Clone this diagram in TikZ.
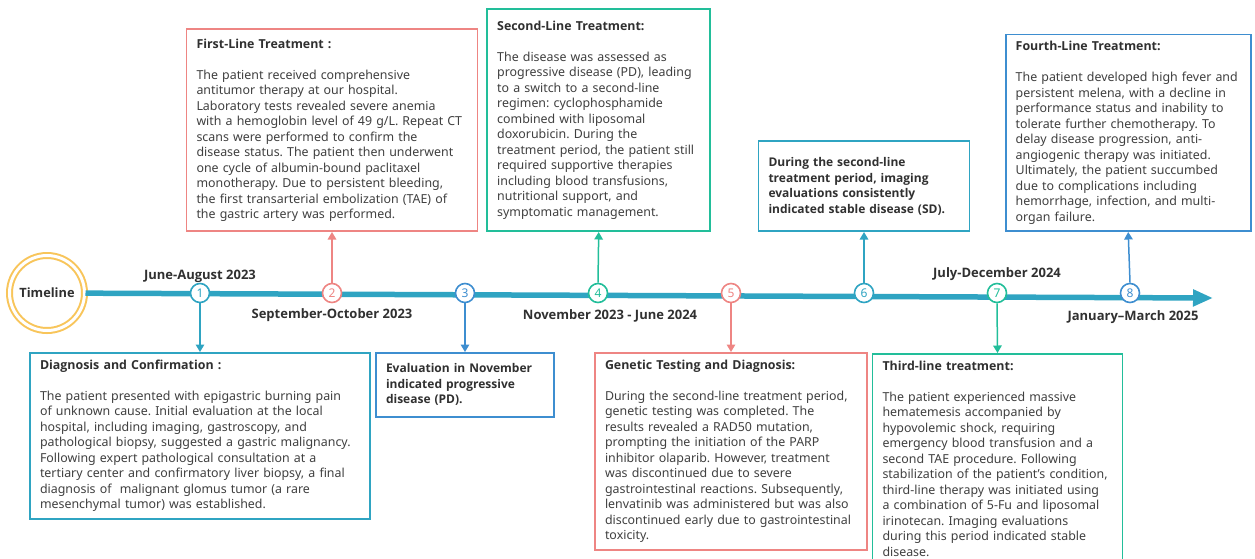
\documentclass[tikz,border=0pt]{standalone}
\usepackage{fontspec}
\setmainfont{Noto Sans}
\newfontfamily\headsans{Open Sans}
\usetikzlibrary{arrows.meta}
\frenchspacing

\definecolor{tlblue}{HTML}{2FA4C2}
\definecolor{salmon}{HTML}{EE8583}
\definecolor{mint}{HTML}{22BE9A}
\definecolor{skyblue}{HTML}{3E8ED0}
\definecolor{ringgold}{HTML}{F8C55A}
\definecolor{txtgray}{HTML}{404040}
\definecolor{txtdark}{HTML}{303030}

\newcommand{\cardtitle}[1]{{\headsans\bfseries\color{txtdark}#1}}

\begin{document}
\begin{tikzpicture}[x=1pt,y=-1pt,
  card/.style={draw=#1, line width=1.6pt, fill=white, rectangle, inner xsep=10pt, inner ysep=7pt,
    align=left, text=txtgray, font=\fontsize{12.4}{15.5}\selectfont},
  boldcard/.style={card=#1, text=txtdark, font=\headsans\bfseries\fontsize{12}{15.5}\selectfont},
  dot/.style={draw=#1, line width=1.6pt, fill=white, circle, minimum size=19pt, inner sep=0pt,
    text=#1, font=\fontsize{12}{12}\selectfont},
  stem/.style={draw=#1, line width=1.5pt, -{Triangle[width=8.5pt,length=7.5pt]}},
  date/.style={font=\headsans\bfseries\fontsize{13}{13}\selectfont, text=txtdark},
]
\useasboundingbox (0,0) rectangle (1255,558);

% axis
\node[circle, draw=ringgold, line width=2pt, double=white, double distance=3pt, fill=white,
  minimum size=75pt, inner sep=0pt, text=txtdark, font=\headsans\bfseries\fontsize{12.8}{13}\selectfont] (tl) at (47,293) {Timeline};
\coordinate (tlend) at (1213,298);
\draw[tlblue, line width=5.5pt, -{Triangle[width=16pt,length=20pt]}] (tl) -- (tlend);

\node[dot=tlblue]  (n1) at (200,293) {1};
\node[dot=salmon]  (n2) at (332,293) {2};
\node[dot=skyblue] (n3) at (465,293) {3};
\node[dot=mint]    (n4) at (598,293) {4};
\node[dot=salmon]  (n5) at (731,293) {5};
\node[dot=tlblue]  (n6) at (864,293) {6};
\node[dot=mint]    (n7) at (997,293) {7};
\node[dot=skyblue] (n8) at (1130,293) {8};

% dates
\node[date] (d1) at (200,276) {June-August 2023};
\node[date] (d2) at (332,315) {September-October 2023};
\node[date] (d4) at (610,316) {November 2023 - June 2024};
\node[date] (d7) at (997,274) {July-December 2024};
\node[date] (d8) at (1133,317) {January–March 2025};

% cards above the axis
\node[card=salmon, text width=271pt, minimum height=202pt, anchor=south] (first) at (332,232)
  {\cardtitle{First-Line Treatment :}\\[15.5pt]
   The patient received comprehensive\\
   antitumor therapy at our hospital.\\
   Laboratory tests revealed severe anemia\\
   with a hemoglobin level of 49 g/L. Repeat CT\\
   scans were performed to confirm the\\
   disease status. The patient then underwent\\
   one cycle of albumin-bound paclitaxel\\
   monotherapy. Due to persistent bleeding,\\
   the first transarterial embolization (TAE) of\\
   the gastric artery was performed.};

\node[card=mint, text width=203pt, minimum height=222pt, anchor=south] (second) at (598.7,232)
  {\cardtitle{Second-Line Treatment:}\\[15.5pt]
   The disease was assessed as\\
   progressive disease (PD), leading\\
   to a switch to a second-line\\
   regimen: cyclophosphamide\\
   combined with liposomal\\
   doxorubicin. During the\\
   treatment period, the patient still\\
   required supportive therapies\\
   including blood transfusions,\\
   nutritional support, and\\
   symptomatic management.};

\node[boldcard=tlblue, text width=191pt, minimum height=90pt, anchor=south] (stable) at (864,232)
  {During the second-line\\
   treatment period, imaging\\
   evaluations consistently\\
   indicated stable disease (SD).};

\node[card=skyblue, text width=225pt, minimum height=194pt, anchor=south] (fourth) at (1128.2,232)
  {\cardtitle{Fourth-Line Treatment:}\\[15.5pt]
   The patient developed high fever and\\
   persistent melena, with a decline in\\
   performance status and inability to\\
   tolerate further chemotherapy. To\\
   delay disease progression, anti-\\
   angiogenic therapy was initiated.\\
   Ultimately, the patient succumbed\\
   due to complications including\\
   hemorrhage, infection, and multi-\\
   organ failure.};

% cards below the axis
\node[card=tlblue, text width=320pt, minimum height=160pt, anchor=north] (diag) at (200,352)
  {\cardtitle{Diagnosis and Confirmation :}\\[15.5pt]
   The patient presented with epigastric burning pain\\
   of unknown cause. Initial evaluation at the local\\
   hospital, including imaging, gastroscopy, and\\
   pathological biopsy, suggested a gastric malignancy.\\
   Following expert pathological consultation at a\\
   tertiary center and confirmatory liver biopsy, a final\\
   diagnosis of~ malignant glomus tumor (a rare\\
   mesenchymal tumor) was established.};

\node[boldcard=skyblue, text width=158pt, minimum height=64pt, anchor=north] (eval) at (465,352)
  {Evaluation in November\\
   indicated progressive\\
   disease (PD).};

\node[card=salmon, text width=252pt, anchor=north] (genetic) at (731,352)
  {\cardtitle{Genetic Testing and Diagnosis:}\\[15.5pt]
   During the second-line treatment period,\\
   genetic testing was completed. The\\
   results revealed a RAD50 mutation,\\
   prompting the initiation of the PARP\\
   inhibitor olaparib. However, treatment\\
   was discontinued due to severe\\
   gastrointestinal reactions. Subsequently,\\
   lenvatinib was administered but was also\\
   discontinued early due to gastrointestinal\\
   toxicity.};

\node[card=mint, text width=230pt, anchor=north] (third) at (997.5,353)
  {\cardtitle{Third-line treatment:}\\[15.5pt]
   The patient experienced massive\\
   hematemesis accompanied by\\
   hypovolemic shock, requiring\\
   emergency blood transfusion and a\\
   second TAE procedure. Following\\
   stabilization of the patient's condition,\\
   third-line therapy was initiated using\\
   a combination of 5-Fu and liposomal\\
   irinotecan. Imaging evaluations\\
   during this period indicated stable\\
   disease.};

% stems
\draw[stem=tlblue]  (n1.south) -- (diag.north);
\draw[stem=salmon]  (n2.north) -- (first.south);
\draw[stem=skyblue] (n3.south) -- (eval.north);
\draw[stem=mint]    (n4.north) -- (second.south);
\draw[stem=salmon]  (n5.south) -- (genetic.north);
\draw[stem=tlblue]  (n6.north) -- (stable.south);
\draw[stem=mint]    (n7.south) -- (third.north);
\draw[stem=skyblue] (n8.north) -- (fourth.south);
\end{tikzpicture}
\end{document}
